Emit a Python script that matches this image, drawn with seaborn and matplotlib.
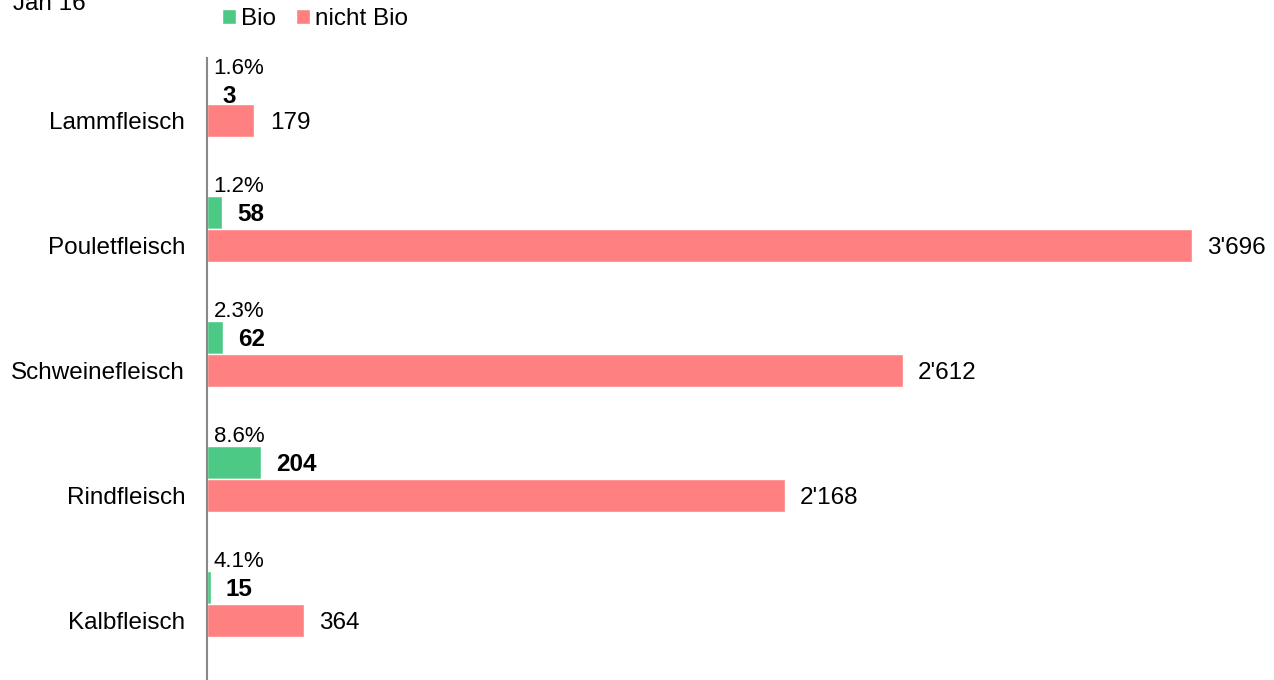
import matplotlib
matplotlib.use('Agg')
import matplotlib.pyplot as plt
import pandas as pd
import seaborn as sns

# data
categories = ['Lammfleisch', 'Pouletfleisch', 'Schweinefleisch', 'Rindfleisch', 'Kalbfleisch']
bio = [3, 58, 62, 204, 15]
nicht_bio = [179, 3696, 2612, 2168, 364]
bio_share = ['1.6%', '1.2%', '2.3%', '8.6%', '4.1%']
period = 'Jan 16'

green = '#4cc985'
red = '#ff8080'

df = pd.DataFrame({
    'Fleisch': categories * 2,
    'Menge': bio + nicht_bio,
    'Typ': ['Bio'] * len(categories) + ['nicht Bio'] * len(categories),
})

sns.set_style('white')
plt.rcParams['font.family'] = ['Liberation Sans', 'DejaVu Sans']
plt.rcParams['text.color'] = 'black'
plt.rcParams['ytick.color'] = 'black'

fig = plt.figure(figsize=(12.74, 6.8), dpi=100)
ax = fig.add_axes([206.7 / 1274, 0, 1053.3 / 1274, 622 / 680])

sns.barplot(data=df, y='Fleisch', x='Menge', hue='Typ', orient='h',
            palette=[green, red], width=0.53, saturation=1, ax=ax)

ax.set_xlim(0, 3952)
ax.set_ylim(4.608, -0.368)

def fmt(v):
    return f'{v:,}'.replace(',', "'")

bio_bars = ax.containers[0]
red_bars = ax.containers[1]

for i, (pb, pr) in enumerate(zip(bio_bars, red_bars)):
    # top row labels are pushed down to stay inside the plot area
    shift = -5 if i == 0 else 0
    # percentage label above the green bar
    ax.annotate(bio_share[i], xy=(0, pb.get_y()), xytext=(5, 2.5 + shift),
                textcoords='offset points', ha='left', va='baseline',
                fontsize=16, color='black')
    # bold bio value right of the green bar
    ax.annotate(fmt(bio[i]), xy=(pb.get_width(), pb.get_y() + pb.get_height() / 2),
                xytext=(11, shift), textcoords='offset points', ha='left',
                va='center_baseline', fontsize=17.5, fontweight='bold', color='black')
    # value right of the red bar
    ax.annotate(fmt(nicht_bio[i]), xy=(pr.get_width(), pr.get_y() + pr.get_height() / 2),
                xytext=(11, 0), textcoords='offset points', ha='left',
                va='center_baseline', fontsize=17.5, color='black')

red_centers = [p.get_y() + p.get_height() / 2 for p in red_bars]
ax.set_yticks(red_centers)
ax.set_yticklabels(categories, fontsize=17.5, color='black')
ax.tick_params(axis='y', length=0, pad=15.5)
ax.set_xticks([])
ax.set_xlabel('')
ax.set_ylabel('')

for s in ['top', 'right', 'bottom']:
    ax.spines[s].set_visible(False)
ax.spines['left'].set_color('#888888')
ax.spines['left'].set_linewidth(1.5)

sns.move_legend(ax, 'center left', bbox_to_anchor=(200 / 1274, 1 - 19 / 680),
                bbox_transform=fig.transFigure, ncol=2, frameon=False, title=None,
                fontsize=17.5, handlelength=0.6, handleheight=0.6,
                handletextpad=0.2, columnspacing=0.8)
for t in ax.get_legend().get_texts():
    t.set_color('black')

fig.text(13 / 1274, 1 - 10 / 680, period, fontsize=17.5, ha='left', va='baseline',
         color='black')

fig.savefig('out.png', dpi=100)
